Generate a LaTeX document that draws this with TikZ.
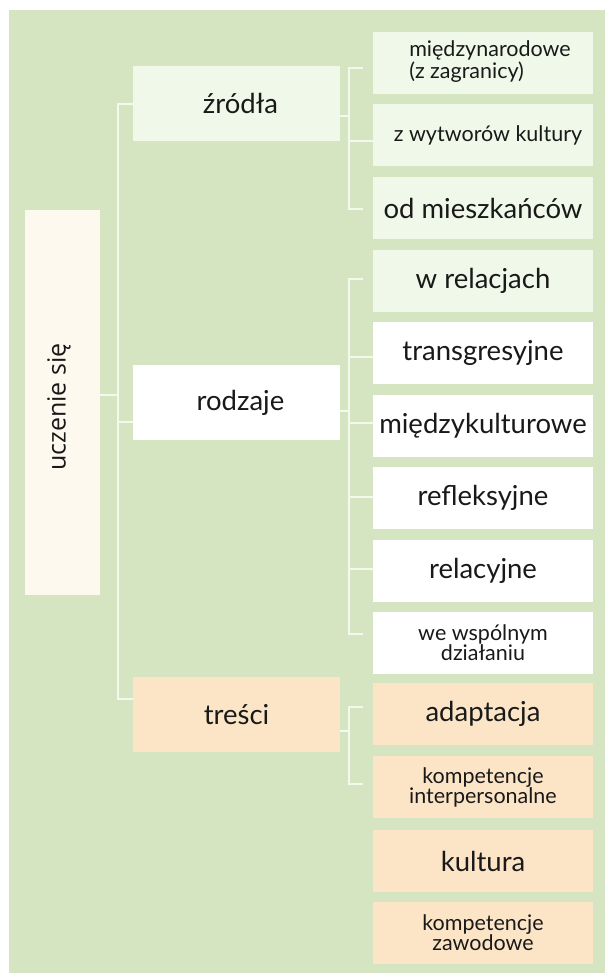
\documentclass[tikz,border=0pt]{standalone}
\usepackage{fontspec}
\setmainfont{Lato}
\newfontfamily\ofont{Open Sans}
\definecolor{bgc}{HTML}{D5E5C1}
\definecolor{lgc}{HTML}{F0F8EA}
\definecolor{pc}{HTML}{FCE5C7}
\definecolor{cc}{HTML}{FEF9EF}
\definecolor{lc}{HTML}{F4F9EE}
\tikzset{
  box/.style={inner sep=0pt, align=center, text=black!90},
  rbox/.style={box, minimum width=220pt, minimum height=62pt},
  mbox/.style={box, minimum width=207pt, minimum height=75pt},
  big/.style={font=\fontsize{27.5}{29}\selectfont},
  small/.style={font=\fontsize{21.5}{22}\selectfont},
  conn/.style={draw=lc, line width=1.5pt}
}
\begin{document}
\begin{tikzpicture}[x=1pt,y=-1pt]
\useasboundingbox (0,0) rectangle (605,974);
\fill[bgc] (9,10) rectangle (605,973);
% root
\node[box, fill=cc, minimum width=75pt, minimum height=385pt] (root) at (62.5,402.5) {};
\node[rotate=90, font=\ofont\fontsize{25}{27}\selectfont, text=black!90] (rootlbl) at (59,407) {uczenie się};
% middle
\node[mbox, fill=lgc, big] (zr) at (236.5,103.5) {\hspace*{8pt}źródła};
\node[mbox, fill=white, big] (ro) at (236.5,402.5) {\hspace*{8pt}rodzaje};
\node[mbox, fill=pc, big] (tr) at (236.5,714.5) {treści};
% right column
\node[rbox, fill=lgc, small] (a1) at (483,63) {\hspace*{14pt}\begin{tabular}{@{}l@{}}międzynarodowe\\[-2pt](z zagranicy)\end{tabular}};
\node[rbox, fill=lgc, small] (a2) at (483,135) {\hspace*{10pt}z wytworów kultury};
\node[rbox, fill=lgc, big] (a3) at (483,208) {od mieszkańców};
\node[rbox, fill=lgc, big] (b1) at (483,281) {w relacjach};
\node[rbox, fill=white, big] (b2) at (483,353) {transgresyjne};
\node[rbox, fill=white, big] (b3) at (483,426) {międzykulturowe};
\node[rbox, fill=white, big] (b4) at (483,498) {refleksyjne};
\node[rbox, fill=white, big] (b5) at (483,571) {relacyjne};
\node[rbox, fill=white, small] (b6) at (483,643) {we wspólnym\\[-2pt]działaniu};
\node[rbox, fill=pc, big] (c1) at (483,714) {adaptacja};
\node[rbox, fill=pc, small] (c2) at (483,787) {kompetencje\\[-2pt]interpersonalne};
\node[rbox, fill=pc, big] (c3) at (483,861) {kultura};
\node[rbox, fill=pc, small] (c4) at (483,933) {kompetencje\\[-2pt]zawodowe};
% spine
\coordinate (sT) at (118,104);
\coordinate (sR) at (118,422);
\coordinate (sB) at (118,699);
\coordinate (sU) at (118,395);
\draw[conn] (sT -| zr.west) -- (sT) -- (sB) -- (sB -| tr.west);
\draw[conn] (sR) -- (sR -| ro.west);
\draw[conn] (root.east |- sU) -- (sU);
% bracket sources
\coordinate (z0) at (349,116);
\coordinate (zt) at (349,68);
\coordinate (zb) at (349,209);
\coordinate (zm) at (349,141);
\draw[conn] (zr.east |- z0) -- (z0);
\draw[conn] ([xshift=14pt]zt) -- (zt) -- (zb) -- ([xshift=14pt]zb);
\draw[conn] (zm) -- (zm -| a2.west);
% bracket types
\coordinate (r0) at (349,411);
\coordinate (rt) at (349,279);
\coordinate (rb) at (349,634);
\draw[conn] (ro.east |- r0) -- (r0);
\draw[conn] ([xshift=14pt]rt) -- (rt) -- (rb) -- ([xshift=14pt]rb);
\coordinate (r2) at (349,357);
\coordinate (r3) at (349,423);
\coordinate (r4) at (349,497);
\coordinate (r5) at (349,569);
\draw[conn] (r2) -- (r2 -| b2.west);
\draw[conn] (r3) -- (r3 -| b3.west);
\draw[conn] (r4) -- (r4 -| b4.west);
\draw[conn] (r5) -- (r5 -| b5.west);
% bracket contents
\coordinate (t0) at (349,731);
\coordinate (tt) at (349,707);
\coordinate (tb) at (349,784);
\draw[conn] (tr.east |- t0) -- (t0);
\draw[conn] ([xshift=14pt]tt) -- (tt) -- (tb) -- ([xshift=14pt]tb);
\end{tikzpicture}
\end{document}
